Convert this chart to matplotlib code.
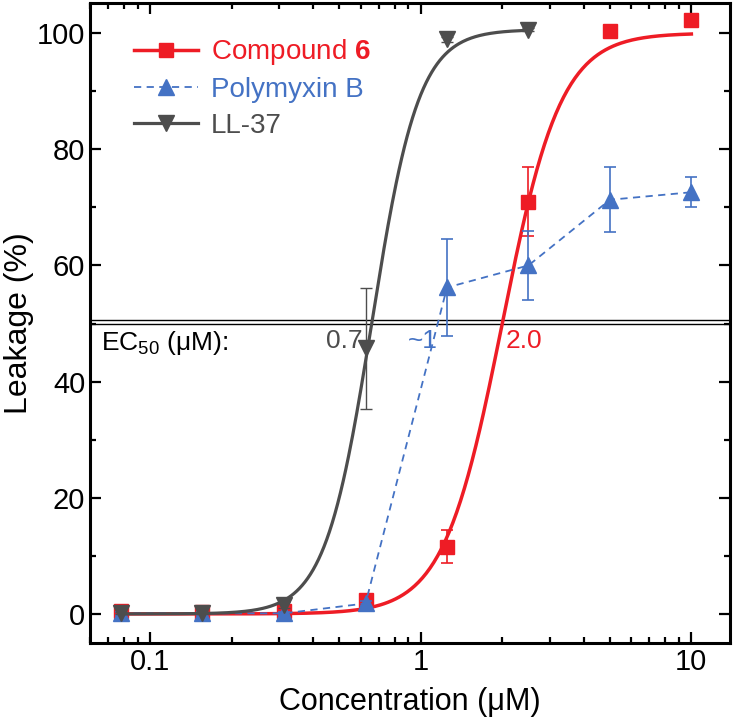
import matplotlib
matplotlib.use("Agg")
import matplotlib.pyplot as plt
import numpy as np
from matplotlib.ticker import FixedLocator, LogLocator, MultipleLocator, NullFormatter

plt.rcParams["font.family"] = ["Liberation Sans", "DejaVu Sans"]
plt.rcParams["mathtext.fontset"] = "custom"
plt.rcParams["mathtext.rm"] = "Liberation Sans"
plt.rcParams["mathtext.bf"] = "Liberation Sans:bold"

conc = [0.078, 0.156, 0.3125, 0.625, 1.25, 2.5, 5, 10]

cmpd6 = [0.5, 0.4, 0.5, 2.4, 11.6, 71.0, 100.3, 102.3]
cmpd6_err = [0.8, 0.5, 0.5, 0.4, 2.8, 6.0, 0.0, 1.0]

pmb = [0.1, 0.1, 0.1, 1.8, 56.2, 60.0, 71.3, 72.6]
pmb_err = [0.3, 0.3, 0.3, 0.4, 8.4, 5.9, 5.6, 2.6]

ll37_conc = [0.078, 0.156, 0.3125, 0.625, 1.25, 2.5]
ll37 = [0.1, 0.1, 1.5, 45.7, 98.9, 100.6]
ll37_err = [0.2, 0.2, 0.5, 10.4, 0.5, 0.3]

# fitted dose-response curves (Hill): EC50 and slope
cmpd6_ec50, cmpd6_hill, cmpd6_top = 2.0, 4.0, 100.0
ll37_ec50, ll37_hill, ll37_top = 0.66, 5.0, 100.6
ec50_labels = ["0.7", "~1", "2.0"]

RED = "#ee1c25"
BLUE = "#4472c4"
GRAY = "#4d4d4d"


def hill(x, ec50, n, top):
    return top / (1 + (ec50 / x) ** n)


fig = plt.figure(figsize=(7.33, 7.2), dpi=100)
ax = fig.add_axes([0.123, 0.107, 0.873, 0.889])

xf = np.logspace(np.log10(conc[0]), np.log10(conc[-1]), 300)
ax.plot(xf, hill(xf, cmpd6_ec50, cmpd6_hill, cmpd6_top), color=RED, lw=2.5, zorder=2)
ax.errorbar(conc, cmpd6, yerr=cmpd6_err, fmt="s", color=RED, ms=10.5,
            ecolor=RED, elinewidth=1.2, capsize=4, capthick=1.2, zorder=3)

ax.errorbar(conc, pmb, yerr=pmb_err, fmt="^", ls=(0, (4, 3)), lw=1.3, color=BLUE,
            ms=11, ecolor=BLUE, elinewidth=1.2, capsize=4, capthick=1.2, zorder=4)

xg = np.logspace(np.log10(ll37_conc[0]), np.log10(ll37_conc[-1]), 300)
ax.plot(xg, hill(xg, ll37_ec50, ll37_hill, ll37_top), color=GRAY, lw=2.3, zorder=5)
ax.errorbar(ll37_conc, ll37, yerr=ll37_err, fmt="v", color=GRAY, ms=11,
            ecolor=GRAY, elinewidth=1.0, capsize=4, capthick=1.0, zorder=6)

# legend proxies
h1, = ax.plot([], [], color=RED, lw=2.5, marker="s", ms=10)
h2, = ax.plot([], [], color=BLUE, lw=1.3, ls=(0, (4, 3)), marker="^", ms=11)
h3, = ax.plot([], [], color=GRAY, lw=2.3, marker="v", ms=11)
leg = ax.legend([h1, h2, h3], ["Compound $\\mathbf{6}$", "Polymyxin B", "LL-37"],
                loc="upper left", bbox_to_anchor=(0.03, 0.985), frameon=False,
                fontsize=20, handlelength=2.3, handletextpad=0.45, labelspacing=0.35)
for txt, c in zip(leg.get_texts(), [RED, BLUE, GRAY]):
    txt.set_color(c)

# EC50 reference line
ax.axhline(50.0, color="black", lw=1.0, zorder=1)
ax.axhline(50.6, color="black", lw=1.0, zorder=1)
ax.text(0.066, 49.0, "EC$_{50}$ (μM):", fontsize=19, ha="left", va="top")
ax.text(0.61, 49.0, ec50_labels[0], fontsize=19, color=GRAY, ha="right", va="top")
ax.text(0.895, 49.0, ec50_labels[1], fontsize=19, color=BLUE, ha="left", va="top")
ax.text(2.05, 49.0, ec50_labels[2], fontsize=19, color=RED, ha="left", va="top")

ax.set_xscale("log")
ax.set_xlim(0.06, 13.9)
ax.set_ylim(-5, 105.2)
ax.xaxis.set_major_locator(FixedLocator([0.1, 1, 10]))
ax.set_xticklabels(["0.1", "1", "10"])
ax.xaxis.set_minor_locator(LogLocator(base=10, subs=np.arange(2, 10)))
ax.xaxis.set_minor_formatter(NullFormatter())
ax.yaxis.set_major_locator(MultipleLocator(20))
ax.yaxis.set_minor_locator(MultipleLocator(10))

ax.tick_params(which="both", direction="in", top=True, right=True, width=1.6, labelsize=21)
ax.tick_params(which="major", length=8)
ax.tick_params(which="minor", length=4.5)
for s in ax.spines.values():
    s.set_linewidth(2.2)

ax.set_xlabel("Concentration (μM)", fontsize=22, labelpad=8)
ax.set_ylabel("Leakage (%)", fontsize=23, labelpad=2)

fig.savefig("out.png", dpi=100)
